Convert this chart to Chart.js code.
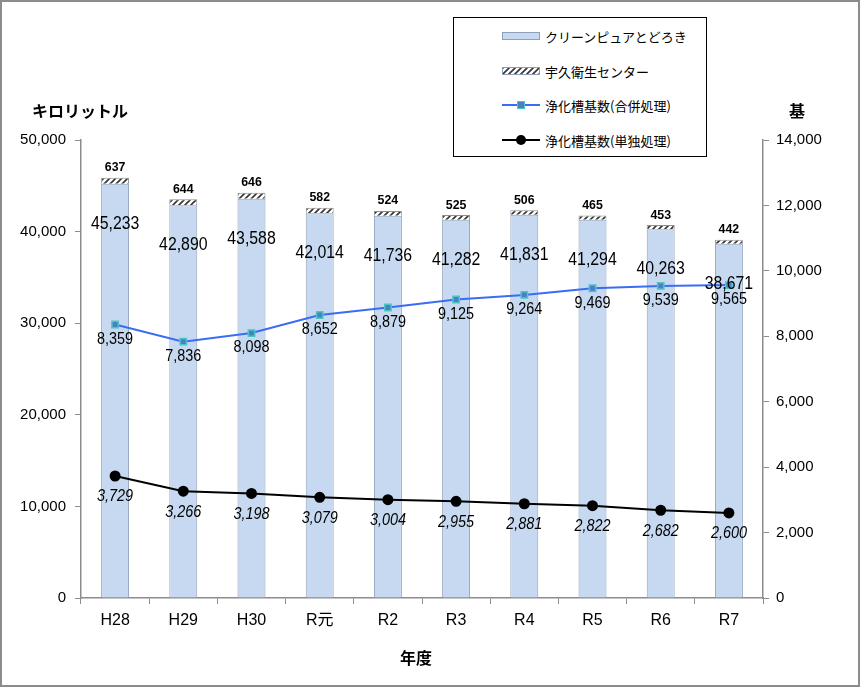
<!DOCTYPE html>
<html lang="ja">
<head>
<meta charset="utf-8">
<script src="https://cdn.jsdelivr.net/npm/chart.js@4/dist/chart.umd.min.js"></script>
<style>
  html, body { margin: 0; padding: 0; background: #fff; }
  #wrap { position: relative; width: 860px; height: 687px; font-family: 'Noto Sans CJK JP', sans-serif; }
  #frame { position: absolute; left: 0; top: 0; width: 860px; height: 687px; box-sizing: border-box; border: 2px solid #8c8c8c; pointer-events: none; }
  .axis-title { position: absolute; font-weight: bold; font-size: 16px; color: #000; line-height: 1; }
  #legend { position: absolute; left: 453px; top: 17px; width: 254px; height: 140px; box-sizing: border-box; border: 1px solid #000; background: #fff; }
  .item { position: absolute; left: 48px; height: 16px; display: flex; align-items: center; font-size: 13px; white-space: nowrap; }
  .sw { position: relative; width: 38px; height: 16px; margin-right: 5px; }
  .sw .box { position: absolute; left: 0; top: 4px; width: 36px; height: 6px; border: 1px solid #8ea0b8; }
  .sw .ln { position: absolute; left: 0; top: 7px; width: 38px; height: 2px; }
  .sw .mk { position: absolute; left: 15px; top: 4px; width: 6px; height: 6px; }
</style>
</head>
<body>
<div id="wrap">
  <canvas id="chart" width="860" height="687"></canvas>
  <div class="axis-title" style="left:32px; top:102px;">キロリットル</div>
  <div class="axis-title" style="left:789px; top:102px;">基</div>
  <div class="axis-title" style="left:400px; top:649px;">年度</div>
  <div id="legend">
    <div class="item" style="top:10px;"><div class="sw"><div class="box" style="background:#c6d9f1;"></div></div>クリーンピュアとどろき</div>
    <div class="item" style="top:45px;"><div class="sw"><div class="box" id="hatchSwatch"></div></div>宇久衛生センター</div>
    <div class="item" style="top:79px;"><div class="sw"><div class="ln" style="background:#3a6cf4;"></div><div class="mk" style="background:#4f7fc0; border:1px solid #4bc6c6;"></div></div>浄化槽基数(合併処理)</div>
    <div class="item" style="top:114px;"><div class="sw"><div class="ln" style="background:#000;"></div><div class="mk" style="left:14px; top:3px; width:10px; height:10px; border-radius:50%; background:#000;"></div></div>浄化槽基数(単独処理)</div>
  </div>
  <div id="frame"></div>
</div>
<script>
const years = ['H28', 'H29', 'H30', 'R元', 'R2', 'R3', 'R4', 'R5', 'R6', 'R7'];

// キロリットル
const todoroki = [45233, 42890, 43588, 42014, 41736, 41282, 41831, 41294, 40263, 38671];
const uku = [637, 644, 646, 582, 524, 525, 506, 465, 453, 442];

// 基
const gappei = [8359, 7836, 8098, 8652, 8879, 9125, 9264, 9469, 9539, 9565];
const tandoku = [3729, 3266, 3198, 3079, 3004, 2955, 2881, 2822, 2682, 2600];

const leftTicks = [0, 10000, 20000, 30000, 40000, 50000];
const rightTicks = [0, 2000, 4000, 6000, 8000, 10000, 12000, 14000];

const numFont = "'Liberation Sans', 'Noto Sans CJK JP', sans-serif";

function hatchPattern() {
  const c = document.createElement('canvas');
  c.width = 6;
  c.height = 6;
  const g = c.getContext('2d');
  g.fillStyle = '#fff';
  g.fillRect(0, 0, 6, 6);
  g.strokeStyle = '#333';
  g.lineWidth = 1.6;
  g.beginPath();
  g.moveTo(-1, 7); g.lineTo(7, -1);
  g.moveTo(-4, 4); g.lineTo(4, -4);
  g.moveTo(2, 10); g.lineTo(10, 2);
  g.stroke();
  return c;
}

const hatchCanvas = hatchPattern();
document.getElementById('hatchSwatch').style.background = 'url(' + hatchCanvas.toDataURL() + ')';

const fmt = (v) => v.toLocaleString('en-US');

// Text squeezed a little sideways, like the narrow digits of the original
function narrowText(ctx, text, x, y, squeeze) {
  ctx.save();
  ctx.translate(x, y);
  ctx.scale(squeeze, 1);
  ctx.fillText(text, 0, 0);
  ctx.restore();
}

// Write values next to the bars and points
const valueLabels = {
  id: 'valueLabels',
  afterDatasetsDraw(chart) {
    const ctx = chart.ctx;
    ctx.save();
    ctx.fillStyle = '#000';
    ctx.textAlign = 'center';
    ctx.textBaseline = 'middle';

    ctx.font = '18px ' + numFont;
    chart.getDatasetMeta(0).data.forEach((el, i) => {
      narrowText(ctx, fmt(todoroki[i]), el.x, el.y + 40, 0.88);
    });

    ctx.font = 'bold 13px ' + numFont;
    chart.getDatasetMeta(1).data.forEach((el, i) => {
      narrowText(ctx, fmt(uku[i]), el.x, el.y - 10, 0.95);
    });

    ctx.font = '16px ' + numFont;
    chart.getDatasetMeta(2).data.forEach((el, i) => {
      narrowText(ctx, fmt(gappei[i]), el.x, el.y + 15, 0.9);
    });

    ctx.font = 'italic 16px ' + numFont;
    chart.getDatasetMeta(3).data.forEach((el, i) => {
      narrowText(ctx, fmt(tandoku[i]), el.x, el.y + 21, 0.9);
    });
    ctx.restore();
  },
};

const ctx = document.getElementById('chart').getContext('2d');
const hatch = ctx.createPattern(hatchCanvas, 'repeat');

new Chart(ctx, {
  type: 'bar',
  data: {
    labels: years,
    datasets: [
      {
        label: 'クリーンピュアとどろき',
        data: todoroki,
        backgroundColor: '#c6d9f1',
        borderColor: '#8ea0b8',
        borderWidth: 1,
        yAxisID: 'y',
        order: 2,
        barPercentage: 0.41,
        categoryPercentage: 1,
      },
      {
        label: '宇久衛生センター',
        data: uku,
        backgroundColor: hatch,
        borderColor: '#8e8e8e',
        borderWidth: 1,
        yAxisID: 'y',
        order: 2,
        barPercentage: 0.41,
        categoryPercentage: 1,
      },
      {
        type: 'line',
        label: '浄化槽基数(合併処理)',
        data: gappei,
        yAxisID: 'y2',
        borderColor: '#3a6cf4',
        borderWidth: 2,
        pointStyle: 'rect',
        pointRadius: 4.5,
        pointBackgroundColor: '#4f7fc0',
        pointBorderColor: '#4bc6c6',
        pointBorderWidth: 1.5,
        order: 1,
      },
      {
        type: 'line',
        label: '浄化槽基数(単独処理)',
        data: tandoku,
        yAxisID: 'y2',
        borderColor: '#000',
        borderWidth: 2,
        pointRadius: 4.5,
        pointBackgroundColor: '#000',
        pointBorderColor: '#000',
        order: 1,
      },
    ],
  },
  options: {
    responsive: false,
    animation: false,
    layout: { padding: { top: 140 } },
    plugins: {
      legend: { display: false },
      tooltip: { enabled: false },
    },
    scales: {
      x: {
        stacked: true,
        offset: true,
        grid: { drawOnChartArea: false, offset: true, tickLength: 6, color: '#8c8c8c' },
        border: { color: '#8c8c8c', width: 1.5 },
        ticks: { color: '#000', font: { size: 16, family: numFont }, padding: 7 },
        afterFit: (s) => { s.height = 89; },
      },
      y: {
        position: 'left',
        stacked: true,
        min: 0,
        max: 50000,
        afterBuildTicks: (s) => { s.ticks = leftTicks.map((v) => ({ value: v })); },
        grid: { drawOnChartArea: false, tickLength: 6, color: '#8c8c8c' },
        border: { color: '#8c8c8c', width: 1.5 },
        ticks: { color: '#000', font: { size: 15, family: numFont }, padding: 9, callback: (v) => fmt(v) },
        afterFit: (s) => { s.width = 81; },
      },
      y2: {
        position: 'right',
        min: 0,
        max: 14000,
        afterBuildTicks: (s) => { s.ticks = rightTicks.map((v) => ({ value: v })); },
        grid: { drawOnChartArea: false, tickLength: 6, color: '#8c8c8c' },
        border: { color: '#8c8c8c', width: 1.5 },
        ticks: { color: '#000', font: { size: 15, family: numFont }, padding: 7, callback: (v) => fmt(v) },
        afterFit: (s) => { s.width = 97; },
      },
    },
  },
  plugins: [valueLabels],
});
</script>
</body>
</html>
